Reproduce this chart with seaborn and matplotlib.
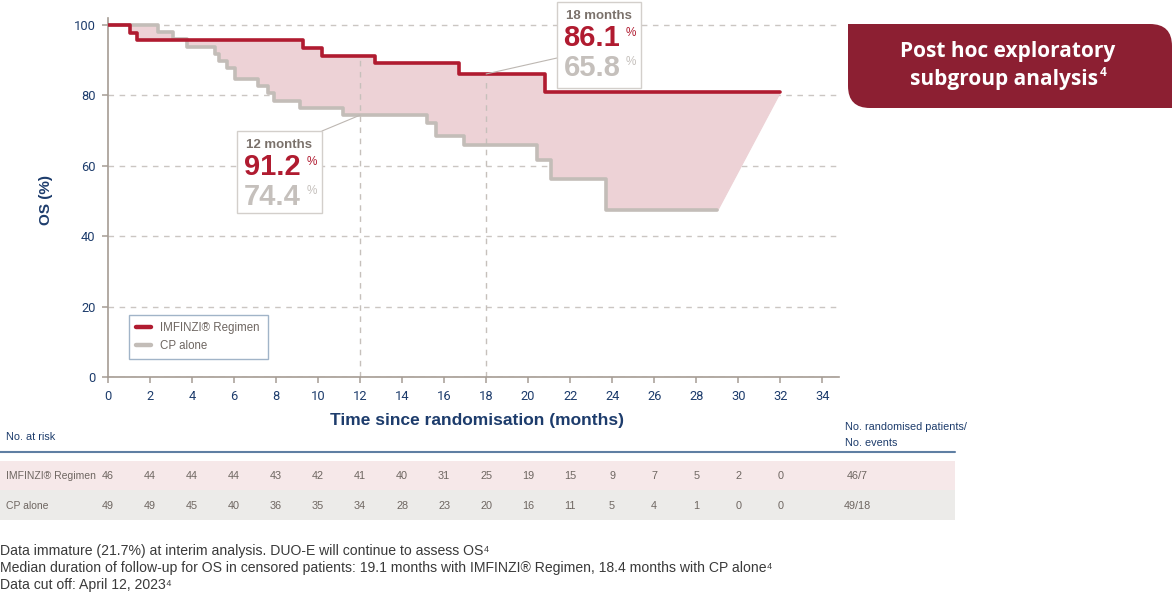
import numpy as np
import pandas as pd
import matplotlib.pyplot as plt
import matplotlib.patches as mpatches
import matplotlib.transforms as mtransforms
from matplotlib.path import Path
from matplotlib.lines import Line2D
from matplotlib.text import Annotation
import seaborn as sns

# Kaplan-Meier steps (months, OS %)
imf_time = [0, 1.05, 1.37, 9.3, 10.2, 12.7, 16.7, 20.8, 32.0]
imf_os = [100, 97.8, 95.7, 93.5, 91.2, 89.1, 86.1, 81.1, 81.1]
cp_time = [0, 2.4, 3.1, 3.75, 5.1, 5.3, 5.65, 6.05, 7.15, 7.6, 7.9, 9.15,
           11.2, 15.2, 15.6, 16.95, 20.4, 21.1, 23.7, 29.0]
cp_os = [100, 98.0, 95.9, 93.9, 91.8, 89.8, 87.8, 84.7, 82.6, 80.6, 78.3, 76.4,
         74.4, 72.1, 68.5, 65.8, 61.6, 56.2, 47.4, 47.4]

arms = ['IMFINZI® Regimen', 'CP alone']

# landmark call-outs
landmark_months = [12, 18]
landmark_imf = [91.2, 86.1]
landmark_cp = [74.4, 65.8]

# number at risk table
risk_months = [0, 2, 4, 6, 8, 10, 12, 14, 16, 18, 20, 22, 24, 26, 28, 30, 32]
imf_at_risk = [46, 44, 44, 44, 43, 42, 41, 40, 31, 25, 19, 15, 9, 7, 5, 2, 0]
cp_at_risk = [49, 49, 45, 40, 36, 35, 34, 28, 23, 20, 16, 11, 5, 4, 1, 0, 0]
pts_events = ['46/7', '49/18']

footnotes = [
    'Data immature (21.7%) at interim analysis. DUO-E will continue to assess OS\u2074',
    'Median duration of follow-up for OS in censored patients: 19.1 months with IMFINZI® Regimen, 18.4 months with CP alone\u2074',
    'Data cut off: April 12, 2023\u2074',
]

RED = '#b01b30'
GREY = '#c3bdb8'
FILL = '#edd2d6'
NAVY = '#1d3c6c'
TXT = '#6e6661'
BANNER = '#8c1f32'
SMALL = ['Liberation Sans', 'DejaVu Sans']
OPEN = ['Open Sans', 'DejaVu Sans']

W, H = 1172, 594


def fx(x):
    return x / W


def fy(y):
    return 1 - y / H


def step_at(times, vals, t):
    idx = np.searchsorted(np.array(times), t, side='right') - 1
    return np.array(vals)[idx]


sns.set_style('white')
plt.rcParams['font.family'] = ['Liberation Sans', 'DejaVu Sans']

df = pd.concat([
    pd.DataFrame({'time': cp_time, 'os': cp_os, 'arm': arms[1]}),
    pd.DataFrame({'time': imf_time, 'os': imf_os, 'arm': arms[0]}),
])

fig = plt.figure(figsize=(W / 100, H / 100), dpi=100)
ax = fig.add_axes([fx(108), fy(377), (839 - 108) / W, (377 - 18) / H])

# shaded gap between the two curves
grid = np.union1d(imf_time, cp_time)
grid = grid[grid <= cp_time[-1]]
ax.fill_between(grid, step_at(imf_time, imf_os, grid), step_at(cp_time, cp_os, grid),
                step='post', fc=FILL, ec=FILL, lw=0.8, zorder=1)
ax.fill_between([cp_time[-1], imf_time[-1]],
                [cp_os[-1], imf_os[-1]],
                [step_at(imf_time, imf_os, cp_time[-1]), imf_os[-1]],
                fc=FILL, ec=FILL, lw=0.8, zorder=1)

# landmark verticals
for m in landmark_months:
    ax.vlines(m, 0, step_at(imf_time, imf_os, m) - 1, color='#c6c0bb', lw=1,
              linestyles=(0, (4, 4)), zorder=1.5)

sns.lineplot(data=df, x='time', y='os', hue='arm', hue_order=[arms[1], arms[0]],
             palette={arms[0]: RED, arms[1]: GREY}, estimator=None, sort=False,
             drawstyle='steps-post', linewidth=2.6, legend=False, ax=ax, zorder=3)

ax.set_xlim(0, 34.8)
ax.set_ylim(0, 102)
ax.set_xticks(range(0, 35, 2))
ax.set_yticks(range(0, 101, 20))
ax.set_xlabel('')
ax.set_ylabel('')
ax.yaxis.grid(True, color='#cbc6c2', lw=1, linestyle=(0, (4, 4)))
ax.xaxis.grid(False)
ax.set_axisbelow(True)
for s in ['top', 'right']:
    ax.spines[s].set_visible(False)
for s in ['left', 'bottom']:
    ax.spines[s].set_color('#a59c94')
    ax.spines[s].set_linewidth(1.2)
ax.tick_params(axis='both', direction='out', length=4, width=1.1, color='#a59c94',
               labelcolor=NAVY, labelsize=9.3, pad=5, left=True, bottom=True)
for lab in ax.get_xticklabels() + ax.get_yticklabels():
    lab.set_family(['Roboto', 'DejaVu Sans'])

fig.text(fx(477), fy(421), 'Time since randomisation (months)', ha='center', va='center',
         fontsize=12.5, fontweight='bold', color=NAVY)
fig.text(fx(46), fy(200), 'OS (%)', ha='center', va='center', rotation=90,
         fontsize=11, fontweight='bold', color=NAVY)

# legend
handles = [Line2D([], [], color=RED, lw=3.2), Line2D([], [], color=GREY, lw=3.2)]
leg = ax.legend(handles, arms, loc='lower left', mode='expand',
                bbox_to_anchor=(21 / 731, 18 / 359, 139 / 731, 41 / 359),
                borderaxespad=0, frameon=True, fancybox=False, edgecolor='#8aa2bb',
                borderpad=0.6, handlelength=1.3, handletextpad=0.8, labelspacing=0.55,
                prop={'family': SMALL, 'size': 8.3})
leg.get_frame().set_linewidth(1)
for t in leg.get_texts():
    t.set_color(TXT)

# landmark call-out boxes
boxes = [(237, 131, 322, 213), (557, 2, 641, 88)]
for i, m in enumerate(landmark_months):
    x0, y0, x1, y1 = boxes[i]
    fig.add_artist(mpatches.Rectangle((fx(x0), fy(y1)), (x1 - x0) / W, (y1 - y0) / H,
                                      transform=fig.transFigure, fc='white',
                                      ec='#d3cfcb', lw=1, zorder=5))
    cx = (x0 + x1) / 2
    fig.text(fx(cx), fy(y0 + 14), f'{m} months', ha='center', va='center', fontsize=9.5,
             fontweight='bold', color='#7a716b', zorder=6)
    fig.text(fx(cx - 7), fy(y0 + 36), f'{landmark_imf[i]:.1f}', ha='center', va='center',
             fontsize=21, fontweight='bold', color=RED, zorder=6)
    fig.text(fx(x1 - 10), fy(y0 + 31), '%', ha='center', va='center', fontsize=8.5,
             color=RED, zorder=6)
    fig.text(fx(cx - 7), fy(y0 + 66), f'{landmark_cp[i]:.1f}', ha='center', va='center',
             fontsize=21, fontweight='bold', color='#c5c0bc', zorder=6)
    fig.text(fx(x1 - 10), fy(y0 + 60), '%', ha='center', va='center', fontsize=8.5,
             color='#c5c0bc', zorder=6)

# connectors from curves to call-outs
con12 = mpatches.ConnectionPatch(xyA=(landmark_months[0], landmark_cp[0]), coordsA=ax.transData,
                                 xyB=(fx(322), fy(131)), coordsB=fig.transFigure,
                                 color='#bdb7b2', lw=0.8, zorder=4)
con18 = mpatches.ConnectionPatch(xyA=(landmark_months[1], landmark_imf[1]), coordsA=ax.transData,
                                 xyB=(fx(557), fy(58)), coordsB=fig.transFigure,
                                 color='#bdb7b2', lw=0.8, zorder=4)
fig.add_artist(con12)
fig.add_artist(con18)

# banner
bx0, by0, bx1, by1, r = 848, 24, 1172, 108, 22
verts = [(bx0, by0), (bx1 - r, by0), (bx1, by0), (bx1, by0 + r), (bx1, by1),
         (bx0 + r, by1), (bx0, by1), (bx0, by1 - r), (bx0, by0)]
codes = [Path.MOVETO, Path.LINETO, Path.CURVE3, Path.CURVE3, Path.LINETO,
         Path.LINETO, Path.CURVE3, Path.CURVE3, Path.CLOSEPOLY]
verts = [(fx(x), fy(y)) for x, y in verts]
fig.add_artist(mpatches.PathPatch(Path(verts, codes), transform=fig.transFigure,
                                  fc=BANNER, ec='none', zorder=2))
fig.text(fx(1008), fy(52), 'Post hoc exploratory', ha='center', va='center', color='white',
         fontsize=15, fontweight='bold', family=OPEN, zorder=6)
sub = fig.text(fx(1004), fy(80), 'subgroup analysis', ha='center', va='center', color='white',
               fontsize=15, fontweight='bold', family=OPEN, zorder=6)
sup = Annotation('4', xy=(1, 0.5), xycoords=sub, xytext=(1, 5.5), textcoords='offset points',
                 ha='left', va='center', color='white', fontsize=8.5, fontweight='bold',
                 family=OPEN, annotation_clip=False)
sup.set_zorder(7)
fig.add_artist(sup)

# number at risk table
fig.text(fx(6), fy(437), 'No. at risk', ha='left', va='center', fontsize=7.8,
         color=NAVY, family=SMALL)
fig.text(fx(845), fy(427), 'No. randomised patients/', ha='left', va='center', fontsize=7.8,
         color=NAVY, family=SMALL)
fig.text(fx(845), fy(443), 'No. events', ha='left', va='center', fontsize=7.8,
         color=NAVY, family=SMALL)
fig.add_artist(Line2D([0, fx(955)], [fy(452), fy(452)], color='#5f7fa3', lw=1.5))
fig.add_artist(mpatches.Rectangle((0, fy(490)), fx(955), 29 / H, transform=fig.transFigure,
                                  fc='#f6e8e9', ec='none', zorder=0))
fig.add_artist(mpatches.Rectangle((0, fy(520)), fx(955), 30 / H, transform=fig.transFigure,
                                  fc='#ecebe9', ec='none', zorder=0))

blend = mtransforms.blended_transform_factory(ax.transData, fig.transFigure)
for row, (label, counts) in enumerate(zip(arms, [imf_at_risk, cp_at_risk])):
    yy = fy(476 + row * 30)
    fig.text(fx(6), yy, label, ha='left', va='center', fontsize=7.5, color=TXT, family=SMALL)
    for m, n in zip(risk_months, counts):
        fig.text(m, yy, str(n), transform=blend, ha='center', va='center', fontsize=7.8,
                 color=TXT, family=SMALL)
    fig.text(fx(857), yy, pts_events[row], ha='center', va='center', fontsize=7.8,
             color=TXT, family=SMALL)

for i, line in enumerate(footnotes):
    fig.text(fx(0), fy(551 + i * 17), line, ha='left', va='center', fontsize=10.1,
             color='#3a3a3a')

fig.savefig('out.png', dpi=100)
